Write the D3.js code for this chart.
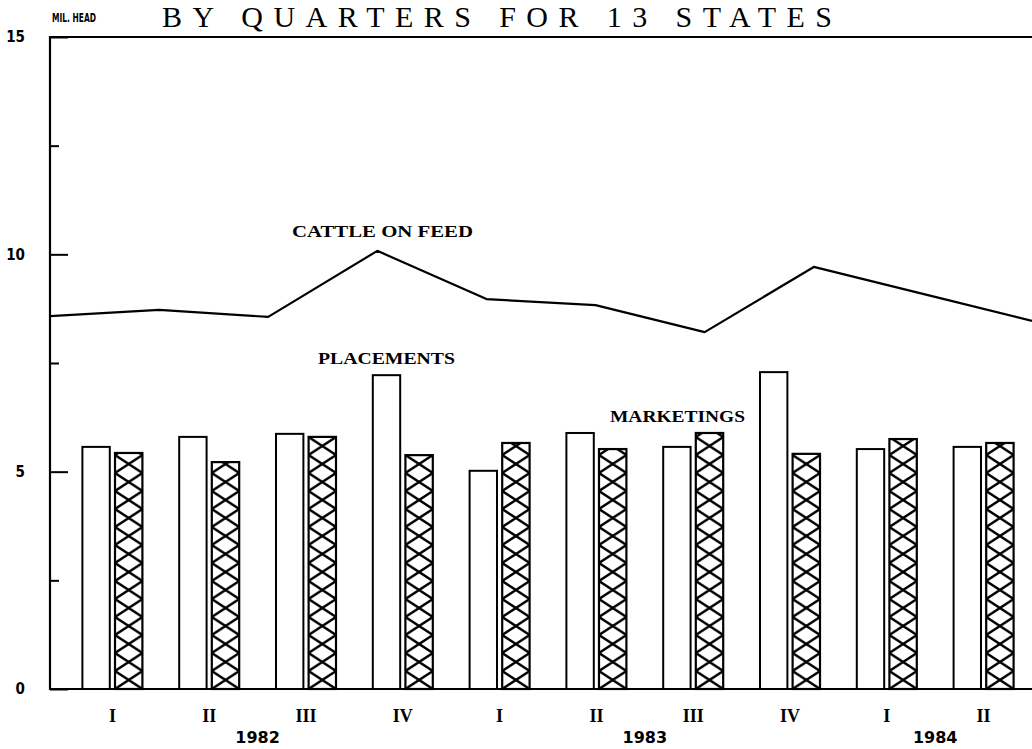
<!DOCTYPE html>
<html lang="en">

<head>
  <meta charset="UTF-8">
  <title>Cattle on feed, placements and marketings</title>
  <style>
    body {
      margin: 0;
      background: #fff;
    }

    svg {
      display: block;
    }

    .tick line {
      stroke: #000;
      stroke-width: 2;
    }
  </style>
</head>

<body>

  <div id="chart"></div>

  <script src="https://cdnjs.cloudflare.com/ajax/libs/d3/7.8.5/d3.min.js"></script>
  <script>
    // quarters shown along the bottom, with the year each one belongs to
    const periods = ['82-I', '82-II', '82-III', '82-IV', '83-I', '83-II', '83-III', '83-IV', '84-I', '84-II']
    const quarterLabels = ['I', 'II', 'III', 'IV', 'I', 'II', 'III', 'IV', 'I', 'II']
    const quarterYears = ['1982', '1982', '1982', '1982', '1983', '1983', '1983', '1983', '1984', '1984']

    // million head
    const placements = [5.57, 5.80, 5.87, 7.22, 5.02, 5.89, 5.57, 7.29, 5.52, 5.57]
    const marketings = [5.43, 5.22, 5.80, 5.38, 5.66, 5.52, 5.89, 5.41, 5.75, 5.66]
    const cattleOnFeed = [8.58, 8.72, 8.56, 10.08, 8.97, 8.83, 8.21, 9.71, 9.09, 8.47]

    const yMajorTicks = [0, 5, 10, 15]
    const yMinorTicks = [2.5, 7.5, 12.5]

    const width = 1032
    const height = 749
    const plotLeft = 50
    const plotTop = 37
    const plotBottom = 689

    const svg = d3.select('#chart')
      .append('svg')
      .attr('width', width)
      .attr('height', height)

    svg.append('rect')
      .attr('width', width)
      .attr('height', height)
      .attr('fill', '#fff')

    const y = d3.scaleLinear()
      .domain([0, 15])
      .range([plotBottom, plotTop])

    // bar groups sit in bands that start a little right of the axis
    const x = d3.scaleBand()
      .domain(periods)
      .range([64, 1032])

    const xSeries = d3.scaleBand()
      .domain(['placements', 'marketings'])
      .range([0, 60])
      .paddingInner(0.16)

    // the line runs from the axis to the right edge
    const xLine = d3.scalePoint()
      .domain(periods)
      .range([plotLeft, width])

    const bw = xSeries.bandwidth()
    const groupLeft = p => x(p) + x.bandwidth() / 2 - 30

    // diamond cross-hatch, one zig-zag pair per bar width
    const defs = svg.append('defs')
    const hatch = defs.append('pattern')
      .attr('id', 'xhatch')
      .attr('patternUnits', 'userSpaceOnUse')
      .attr('width', bw)
      .attr('height', 36)
      .attr('y', plotBottom % 36)
    hatch.append('rect')
      .attr('width', bw)
      .attr('height', 36)
      .attr('fill', '#fff')
    hatch.append('path')
      .attr('d', `M0,0 L${bw},18 L0,36 M${bw},0 L0,18 L${bw},36`)
      .attr('fill', 'none')
      .attr('stroke', '#000')
      .attr('stroke-width', 2.4)

    // placements: open bars
    svg.append('g')
      .selectAll('rect')
      .data(periods)
      .join('rect')
      .attr('x', p => groupLeft(p) + xSeries('placements'))
      .attr('y', (p, i) => y(placements[i]))
      .attr('width', bw)
      .attr('height', (p, i) => plotBottom - y(placements[i]))
      .attr('fill', '#fff')
      .attr('stroke', '#000')
      .attr('stroke-width', 2)

    // marketings: hatched bars, each in its own translated group so the
    // pattern lines up with the bar edges
    svg.append('g')
      .selectAll('g')
      .data(periods)
      .join('g')
      .attr('transform', p => `translate(${groupLeft(p) + xSeries('marketings')},0)`)
      .append('rect')
      .attr('y', (p, i) => y(marketings[i]))
      .attr('width', bw)
      .attr('height', (p, i) => plotBottom - y(marketings[i]))
      .attr('fill', 'url(#xhatch)')
      .attr('stroke', '#000')
      .attr('stroke-width', 2.2)

    // cattle on feed line
    const line = d3.line()
      .x((d, i) => xLine(periods[i]))
      .y(d => y(d))

    svg.append('path')
      .datum(cattleOnFeed)
      .attr('d', line)
      .attr('fill', 'none')
      .attr('stroke', '#000')
      .attr('stroke-width', 2.2)
      .attr('stroke-linejoin', 'round')

    // frame: left, top and bottom only
    svg.append('path')
      .attr('d', `M${width},${plotTop} H${plotLeft} V${plotBottom} H${width}`)
      .attr('fill', 'none')
      .attr('stroke', '#000')
      .attr('stroke-width', 2.2)

    // y axis: ticks point inward, labels far to the left
    const yMajor = svg.append('g')
      .attr('transform', `translate(${plotLeft},0)`)
      .call(d3.axisLeft(y).tickValues(yMajorTicks).tickSize(-18).tickPadding(25).tickFormat(d3.format('d')))
    yMajor.select('.domain').remove()
    yMajor.selectAll('text')
      .attr('fill', '#000')
      .style('font-family', '"Liberation Sans Narrow", "DejaVu Sans Condensed", sans-serif')
      .style('font-weight', 'bold')
      .style('font-size', '15px')

    const yMinor = svg.append('g')
      .attr('transform', `translate(${plotLeft},0)`)
      .call(d3.axisLeft(y).tickValues(yMinorTicks).tickSize(-9).tickFormat(''))
    yMinor.select('.domain').remove()

    // quarters
    const xAxis = svg.append('g')
      .attr('transform', `translate(0,${plotBottom})`)
      .call(d3.axisBottom(x).tickSize(0).tickPadding(20).tickFormat((p, i) => quarterLabels[i]))
    xAxis.select('.domain').remove()
    xAxis.selectAll('text')
      .attr('fill', '#000')
      .style('font-family', '"Liberation Serif", "DejaVu Serif", serif')
      .style('font-weight', 'bold')
      .style('font-size', '18px')

    // years, centred under their own quarters
    const yearNames = Array.from(new Set(quarterYears))
    svg.append('g')
      .selectAll('text')
      .data(yearNames)
      .join('text')
      .attr('x', yr => d3.mean(periods.filter((p, i) => quarterYears[i] === yr), p => x(p) + x.bandwidth() / 2))
      .attr('y', 743)
      .attr('text-anchor', 'middle')
      .style('font-family', '"DejaVu Sans", sans-serif')
      .style('font-weight', 'bold')
      .style('font-size', '16px')
      .text(yr => yr)

    // unit label
    svg.append('text')
      .attr('x', 52)
      .attr('y', 22)
      .attr('textLength', 44)
      .attr('lengthAdjust', 'spacingAndGlyphs')
      .style('font-family', '"Liberation Sans Narrow", "DejaVu Sans Condensed", sans-serif')
      .style('font-weight', 'bold')
      .style('font-size', '12px')
      .text('MIL. HEAD')

    // title
    svg.append('text')
      .attr('x', 162)
      .attr('y', 27)
      .attr('textLength', 670)
      .attr('lengthAdjust', 'spacing')
      .style('font-family', '"Liberation Serif", "DejaVu Serif", serif')
      .style('font-size', '30px')
      .text('BY QUARTERS FOR 13 STATES')

    // series annotations
    const notes = [
      { text: 'CATTLE ON FEED', x: 292, y: 237, len: 181 },
      { text: 'PLACEMENTS', x: 318, y: 364, len: 137 },
      { text: 'MARKETINGS', x: 610, y: 422, len: 135 }
    ]
    svg.append('g')
      .selectAll('text')
      .data(notes)
      .join('text')
      .attr('x', d => d.x)
      .attr('y', d => d.y)
      .attr('textLength', d => d.len)
      .attr('lengthAdjust', 'spacingAndGlyphs')
      .style('font-family', '"Liberation Serif", "DejaVu Serif", serif')
      .style('font-weight', 'bold')
      .style('font-size', '17px')
      .text(d => d.text)
  </script>
</body>

</html>
